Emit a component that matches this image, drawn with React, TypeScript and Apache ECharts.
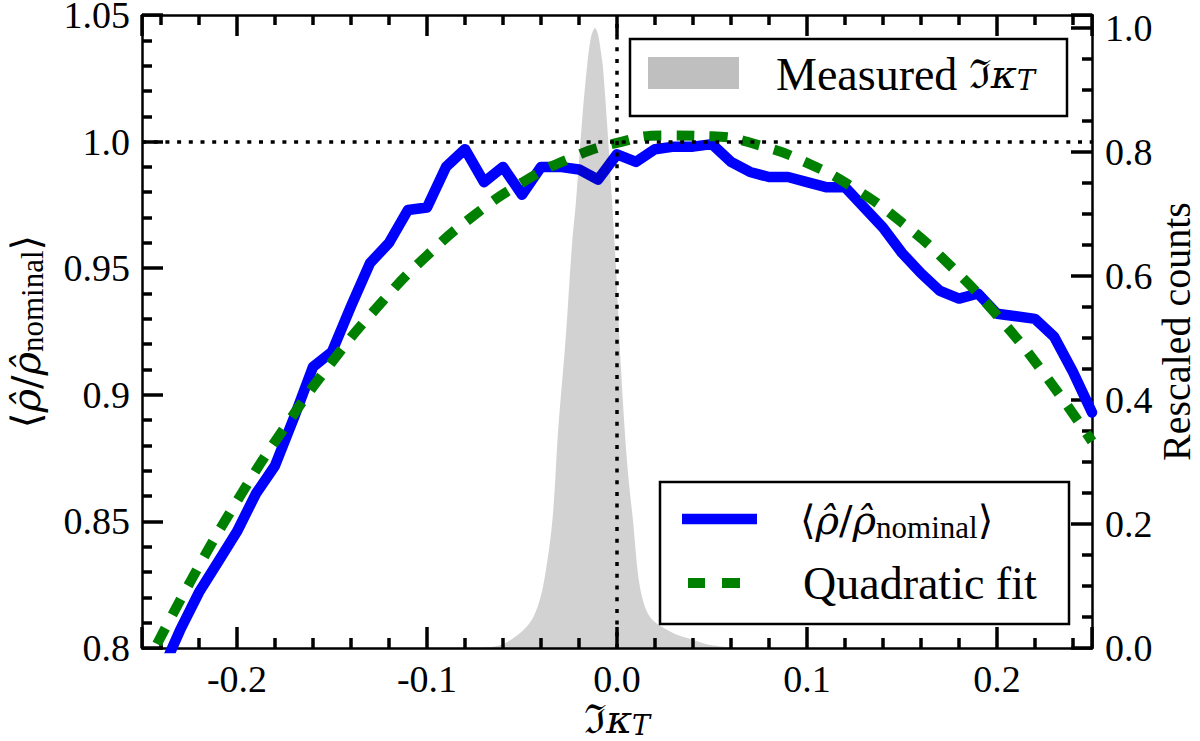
import React, { useEffect, useRef } from 'react';
import * as echarts from 'echarts';

const FONT = 'Liberation Serif';
const MATH = 'DejaVu Serif';

// Blue curve: <rho/rho_nominal> versus Im(kappa_T)
const kappa = [
  -0.24, -0.23, -0.22, -0.21, -0.2, -0.19, -0.18, -0.17, -0.16, -0.15,
  -0.14, -0.13, -0.12, -0.11, -0.1, -0.09, -0.08, -0.07, -0.06, -0.05,
  -0.04, -0.03, -0.02, -0.01, 0.0, 0.01, 0.02, 0.03, 0.04, 0.05,
  0.06, 0.07, 0.08, 0.09, 0.1, 0.11, 0.12, 0.13, 0.14, 0.15,
  0.16, 0.17, 0.18, 0.19, 0.2, 0.21, 0.22, 0.23, 0.24, 0.25,
];
const rhoRatio = [
  0.79, 0.807, 0.822, 0.834, 0.846, 0.861, 0.872, 0.891, 0.911, 0.917,
  0.935, 0.952, 0.96, 0.973, 0.974, 0.99, 0.997, 0.984, 0.99, 0.979,
  0.99, 0.99, 0.989, 0.985, 0.995, 0.992, 0.997, 0.998, 0.998, 0.999,
  0.992, 0.988, 0.986, 0.986, 0.984, 0.982, 0.982, 0.974, 0.966, 0.956,
  0.948, 0.941, 0.938, 0.94, 0.932, 0.931, 0.93, 0.923, 0.909, 0.893,
];

// Green dashed quadratic fit
const fitKappa = [
  -0.25, -0.225, -0.2, -0.175, -0.15, -0.125, -0.1, -0.075, -0.05, -0.025, 0.0,
  0.025, 0.05, 0.075, 0.1, 0.125, 0.15, 0.175, 0.2, 0.225, 0.25,
];
const fitValues = [
  0.79, 0.8256, 0.858, 0.887, 0.913, 0.9356, 0.955, 0.971, 0.9838, 0.9933, 0.9995,
  1.0024, 1.0021, 0.9985, 0.9916, 0.9815, 0.968, 0.9513, 0.9314, 0.9081, 0.8816,
];

// Grey histogram of measured Im(kappa_T), rescaled counts (right axis)
const histKappa = [
  -0.078, -0.062, -0.051, -0.044, -0.039, -0.034, -0.031, -0.027, -0.0237, -0.0216,
  -0.0184, -0.0158, -0.0137, -0.0116, -0.01, -0.0084, -0.0074, -0.0053, -0.0026, -0.0003,
  0.0021, 0.0053, 0.0084, 0.0121, 0.0174, 0.0295, 0.04, 0.049, 0.065,
];
const histCounts = [
  0, 0.004, 0.024, 0.05, 0.098, 0.206, 0.35, 0.5, 0.65, 0.72,
  0.85, 0.937, 0.985, 1.0, 0.99, 0.96, 0.937, 0.85, 0.72, 0.6,
  0.45, 0.3, 0.206, 0.098, 0.05, 0.024, 0.013, 0.005, 0,
];

const referenceY = [1.0];
const referenceX = [0.0];

const black = '#000';

const fmtX = (v: number) => {
  const r = Math.round(v * 10);
  if (Math.abs(v * 10 - r) > 1e-6) return '';
  return (r / 10).toFixed(1);
};
const fmtLeft = (v: number) => {
  let s = (Math.round(v * 100) / 100).toFixed(2);
  if (s.endsWith('0')) s = s.slice(0, -1);
  return s;
};
const fmtRight = (v: number) => {
  const r = Math.round(v * 5);
  if (Math.abs(v * 5 - r) > 1e-6) return '';
  return (r / 5).toFixed(1);
};

const richBase = {
  n: { fontFamily: FONT, fontSize: 46, color: black },
  b: { fontFamily: MATH, fontSize: 40, color: black },
  i: { fontFamily: MATH, fontSize: 40, fontStyle: 'italic', color: black },
  s: { fontFamily: MATH, fontSize: 27, fontStyle: 'italic', color: black, padding: [12, 0, 0, 0] },
  r: { fontFamily: FONT, fontSize: 31, color: black, padding: [14, 0, 0, 0] },
};

const richXName = {
  b: { fontFamily: MATH, fontSize: 40, lineHeight: 34, color: black },
  i: { fontFamily: MATH, fontSize: 40, lineHeight: 34, fontStyle: 'italic', color: black },
  s: { fontFamily: MATH, fontSize: 27, lineHeight: 22, fontStyle: 'italic', color: black, padding: [12, 0, 0, 0] },
};

function axisCommon() {
  return {
    axisLine: { show: true, onZero: false, lineStyle: { color: black, width: 2.5 } },
    axisTick: { show: true, inside: true, length: 21, lineStyle: { color: black, width: 3.5 } },
    splitLine: { show: false },
    minorSplitLine: { show: false },
  };
}

const rhoName = '{b|⟨}{i|ρ̂}{b|/}{i|ρ̂}{r|nominal}{b|⟩}';

export default function App() {
  const ref = useRef<HTMLDivElement>(null);
  useEffect(() => {
    if (!ref.current) return;
    const chart = echarts.init(ref.current, undefined, { renderer: 'svg' });
    const option: any = {
      animation: false,
      backgroundColor: '#fff',
      textStyle: { fontFamily: FONT },
      grid: { left: 142, top: 15, width: 950, height: 633, containLabel: false, outerBoundsMode: 'none' },
      xAxis: [
        {
          type: 'value', position: 'bottom', min: -0.25, max: 0.25, splitNumber: 5,
          ...axisCommon(),
          minorTick: { show: true, splitNumber: 5, length: 10, lineStyle: { color: black, width: 3.5 } },
          axisLabel: { show: true, margin: 12, color: black, fontFamily: FONT, fontSize: 38, formatter: fmtX },
          name: '{b|ℑ}{i|κ}{s|T}',
          nameLocation: 'middle', nameGap: 54, nameMoveOverlap: false,
          nameTextStyle: { fontFamily: FONT, fontSize: 40, lineHeight: 34, color: black, rich: richXName },
        },
        {
          type: 'value', position: 'top', min: -0.25, max: 0.25, splitNumber: 5,
          ...axisCommon(),
          minorTick: { show: true, splitNumber: 5, length: 10, lineStyle: { color: black, width: 3.5 } },
          axisLabel: { show: false },
        },
      ],
      yAxis: [
        {
          type: 'value', position: 'left', min: 0.8, max: 1.05, splitNumber: 5,
          ...axisCommon(),
          minorTick: { show: true, splitNumber: 5, length: 10, lineStyle: { color: black, width: 3.5 } },
          axisLabel: { show: true, margin: 12, color: black, fontFamily: FONT, fontSize: 38, formatter: fmtLeft },
          name: rhoName,
          nameLocation: 'middle', nameRotate: 90, nameGap: 94,
          nameTextStyle: { fontFamily: FONT, fontSize: 40, color: black, rich: richBase },
        },
        {
          type: 'value', position: 'right', min: 0, max: 1.021, splitNumber: 5,
          ...axisCommon(),
          minorTick: { show: true, splitNumber: 4, length: 10, lineStyle: { color: black, width: 3.5 } },
          axisLabel: { show: true, margin: 13, color: black, fontFamily: FONT, fontSize: 38, formatter: fmtRight },
          name: 'Rescaled counts',
          nameLocation: 'middle', nameRotate: 90, nameGap: 64, nameMoveOverlap: false,
          nameTextStyle: { fontFamily: FONT, fontSize: 40, color: black },
        },
      ],
      series: [
        {
          name: '⟨ρ̂/ρ̂nominal⟩',
          type: 'line', xAxisIndex: 0, yAxisIndex: 0, z: 2,
          data: kappa.map((k, i) => [k, rhoRatio[i]]),
          symbol: 'none', clip: true,
          lineStyle: { color: '#0000ff', width: 10.5, join: 'round', cap: 'round' },
          markLine: {
            silent: true, symbol: ['none', 'none'], label: { show: false },
            lineStyle: { color: black, width: 3.5, type: [4, 7.7] },
            data: [
              ...referenceY.map((v) => ({ yAxis: v })),
              ...referenceX.map((v) => ({ xAxis: v })),
            ],
          },
        },
        {
          name: 'Quadratic fit',
          type: 'line', xAxisIndex: 0, yAxisIndex: 0, z: 3,
          data: fitKappa.map((k, i) => [k, fitValues[i]]),
          symbol: 'none', smooth: true, clip: true,
          lineStyle: { color: '#008000', width: 10, type: [18, 15], cap: 'butt' },
        },
        {
          name: 'Measured ℑκT',
          type: 'line', xAxisIndex: 0, yAxisIndex: 1, z: 4,
          data: histKappa.map((k, i) => [k, histCounts[i]]),
          symbol: 'none', smooth: 0.3, clip: true,
          lineStyle: { width: 0, opacity: 0 },
          areaStyle: { color: 'rgba(0,0,0,0.25)' },
        },
      ],
      graphic: [
        {
          type: 'group', z: 100,
          children: [
            { type: 'rect', shape: { x: 630, y: 39, width: 437, height: 77 }, style: { fill: '#fff', stroke: black, lineWidth: 2.5 } },
            { type: 'rect', shape: { x: 648, y: 57, width: 91, height: 32 }, style: { fill: '#bfbfbf' } },
            {
              type: 'text', x: 776, y: 74,
              style: { text: '{n|Measured }{b|ℑ}{i|κ}{s|T}', rich: richBase, verticalAlign: 'middle', align: 'left', fill: black, font: `46px ${FONT}` },
            },
            { type: 'rect', shape: { x: 660, y: 482, width: 409, height: 142 }, style: { fill: '#fff', stroke: black, lineWidth: 2.5 } },
            { type: 'line', shape: { x1: 682, y1: 519, x2: 757, y2: 519 }, style: { stroke: '#0000ff', lineWidth: 10.5 } },
            { type: 'line', shape: { x1: 688, y1: 583, x2: 705, y2: 583 }, style: { stroke: '#008000', lineWidth: 10 } },
            { type: 'line', shape: { x1: 722, y1: 583, x2: 740, y2: 583 }, style: { stroke: '#008000', lineWidth: 10 } },
            {
              type: 'text', x: 800, y: 520,
              style: { text: rhoName, rich: richBase, verticalAlign: 'middle', align: 'left', fill: black, font: `46px ${FONT}` },
            },
            {
              type: 'text', x: 803, y: 583,
              style: { text: '{n|Quadratic fit}', rich: richBase, verticalAlign: 'middle', align: 'left', fill: black, font: `46px ${FONT}` },
            },
          ],
        },
      ],
    };
    chart.setOption(option);
    return () => chart.dispose();
  }, []);
  return <div ref={ref} style={{ position: 'fixed', left: 0, top: 0, width: 1200, height: 741, background: '#fff' }} />;
}
